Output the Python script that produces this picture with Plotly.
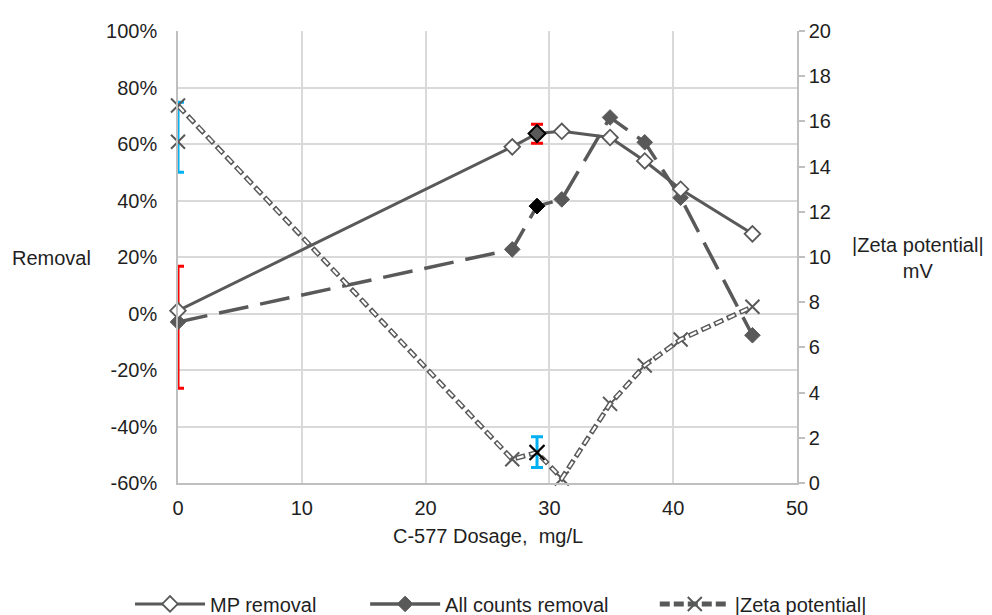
import plotly.graph_objects as go

# ---- data ----
dosage = [0, 27, 29, 31, 34.9, 37.7, 40.6, 46.4]
mp_removal = [1.0, 59.0, 63.7, 64.5, 62.3, 54.0, 44.0, 28.2]          # %
all_counts_removal = [-3.0, 22.7, 38.0, 40.4, 69.4, 60.6, 41.0, -7.7]  # %
zeta = [16.7, 1.05, 1.35, 0.2, 3.5, 5.2, 6.35, 7.8]                    # mV

# highlighted / replicate points
hl_x = [29]
hl_mp = [63.7]
hl_all = [38.0]
hl_zeta = [1.35]
extra_zeta_x = [0]
extra_zeta = [15.1]

# error bars (removal, left axis)
err_rem_x = [0, 29]
err_rem_y = [-3.0, 63.7]
err_rem_plus = [19.7, 3.3]
err_rem_minus = [23.5, 3.4]
# error bars (zeta, right axis)
err_z_x = [0, 29]
err_z_y = [15.3, 1.37]
err_z_pm = [1.55, 0.68]

x_ticks = [0, 10, 20, 30, 40, 50]
left_ticks = [-60, -40, -20, 0, 20, 40, 60, 80, 100]
left_tick_text = [f"{v}%" for v in left_ticks]
right_ticks = list(range(0, 21, 2))

GRAY = "#595959"
FONT = "Liberation Sans, Arial, sans-serif"
FS = 20
TXT = "#1f1f1f"

fig = go.Figure()

# error bars
fig.add_trace(go.Scatter(
    x=err_rem_x, y=err_rem_y, mode="markers", marker=dict(size=1, opacity=0),
    error_y=dict(type="data", symmetric=False, array=err_rem_plus, arrayminus=err_rem_minus,
                 color="#ff0000", thickness=3, width=6),
    showlegend=False, hoverinfo="skip", cliponaxis=True))
fig.add_trace(go.Scatter(
    x=err_z_x, y=err_z_y, yaxis="y2", mode="markers", marker=dict(size=1, opacity=0),
    error_y=dict(type="data", array=err_z_pm, color="#00b0f0", thickness=3, width=6),
    showlegend=False, hoverinfo="skip", cliponaxis=True))

# zeta potential (outlined dashes: gray + white core)
fig.add_trace(go.Scatter(
    x=dosage, y=zeta, yaxis="y2", mode="lines+markers", name="|Zeta potential|",
    legend="legend3",
    line=dict(color=GRAY, width=5, dash="10px,4px"),
    marker=dict(symbol="x-thin", size=14, line=dict(color=GRAY, width=2)),
    cliponaxis=False))
fig.add_trace(go.Scatter(
    x=dosage, y=zeta, yaxis="y2", mode="lines", showlegend=False,
    line=dict(color="white", width=2.2, dash="0px,1.6px,6.8px,5.6px"),
    hoverinfo="skip"))
fig.add_trace(go.Scatter(
    x=extra_zeta_x, y=extra_zeta, yaxis="y2", mode="markers", showlegend=False,
    marker=dict(symbol="x-thin", size=14, line=dict(color=GRAY, width=2)),
    cliponaxis=False))

# all counts removal
fig.add_trace(go.Scatter(
    x=dosage, y=all_counts_removal, mode="lines+markers", name="All counts removal",
    legend="legend2",
    line=dict(color=GRAY, width=3.5, dash="30px,12px"),
    marker=dict(symbol="diamond", size=12, color=GRAY, line=dict(color=GRAY, width=1)),
    cliponaxis=False))

# MP removal
fig.add_trace(go.Scatter(
    x=dosage, y=mp_removal, mode="lines+markers", name="MP removal",
    legend="legend",
    line=dict(color=GRAY, width=3),
    marker=dict(symbol="diamond", size=12, color="white", line=dict(color=GRAY, width=1.8)),
    cliponaxis=False))

# highlighted points at 29 mg/L
fig.add_trace(go.Scatter(
    x=hl_x, y=hl_mp, mode="markers", showlegend=False,
    marker=dict(symbol="diamond", size=13, color=GRAY, line=dict(color="black", width=2)),
    cliponaxis=False))
fig.add_trace(go.Scatter(
    x=hl_x, y=hl_all, mode="markers", showlegend=False,
    marker=dict(symbol="diamond", size=12, color="black", line=dict(color="black", width=1)),
    cliponaxis=False))
fig.add_trace(go.Scatter(
    x=hl_x, y=hl_zeta, yaxis="y2", mode="markers", showlegend=False,
    marker=dict(symbol="x-thin", size=15, line=dict(color="black", width=2)),
    cliponaxis=False))

leg_common = dict(orientation="h", xref="container", yref="container", xanchor="left",
                  y=0.031, yanchor="middle", font=dict(size=FS, color=TXT), itemwidth=70,
                  bgcolor="rgba(0,0,0,0)")

fig.update_layout(
    width=992, height=615,
    margin=dict(l=170, r=203, t=16, b=140),
    paper_bgcolor="white", plot_bgcolor="white",
    font=dict(family=FONT, size=FS, color=TXT),
    xaxis=dict(range=[0, 50], tickvals=x_ticks, showgrid=True, gridcolor="#d9d9d9", gridwidth=1.5,
               showline=True, linecolor="#bfbfbf", linewidth=1.5, zeroline=False,
               ticks="outside", ticklen=6, tickcolor="rgba(0,0,0,0)",
               tickfont=dict(size=FS, color=TXT)),
    yaxis=dict(range=[-60, 100], tickmode="array", tickvals=left_ticks, ticktext=left_tick_text,
               showgrid=True, gridcolor="#d9d9d9", gridwidth=1.5,
               showline=True, linecolor="#bfbfbf", linewidth=1.5, zeroline=False,
               ticks="outside", ticklen=15, tickcolor="rgba(0,0,0,0)",
               tickfont=dict(size=FS, color=TXT)),
    yaxis2=dict(range=[0, 20], tickvals=right_ticks, overlaying="y", side="right",
                showgrid=False, showline=True, linecolor="#bfbfbf", linewidth=1.5,
                zeroline=False, ticks="outside", ticklen=6, tickcolor="#bfbfbf", tickwidth=1.5,
                tickfont=dict(size=FS, color=TXT)),
    legend=dict(x=0.123, **leg_common),
    legend2=dict(x=0.360, **leg_common),
    legend3=dict(x=0.652, **leg_common),
    annotations=[
        dict(text="Removal", xref="paper", yref="paper", x=-0.2714, y=0.4967,
             xanchor="left", yanchor="middle", showarrow=False, font=dict(size=FS, color=TXT)),
        dict(text="|Zeta potential|<br>mV", xref="paper", yref="paper", x=1.195, y=0.4976,
             xanchor="center", yanchor="middle", showarrow=False, align="center",
             font=dict(size=FS, color=TXT)),
        dict(text="C-577 Dosage,&nbsp; mg/L", xref="paper", yref="paper", x=0.5, y=-0.1176,
             xanchor="center", yanchor="middle", showarrow=False, font=dict(size=FS, color=TXT)),
    ],
)

fig.write_html("out.html")
